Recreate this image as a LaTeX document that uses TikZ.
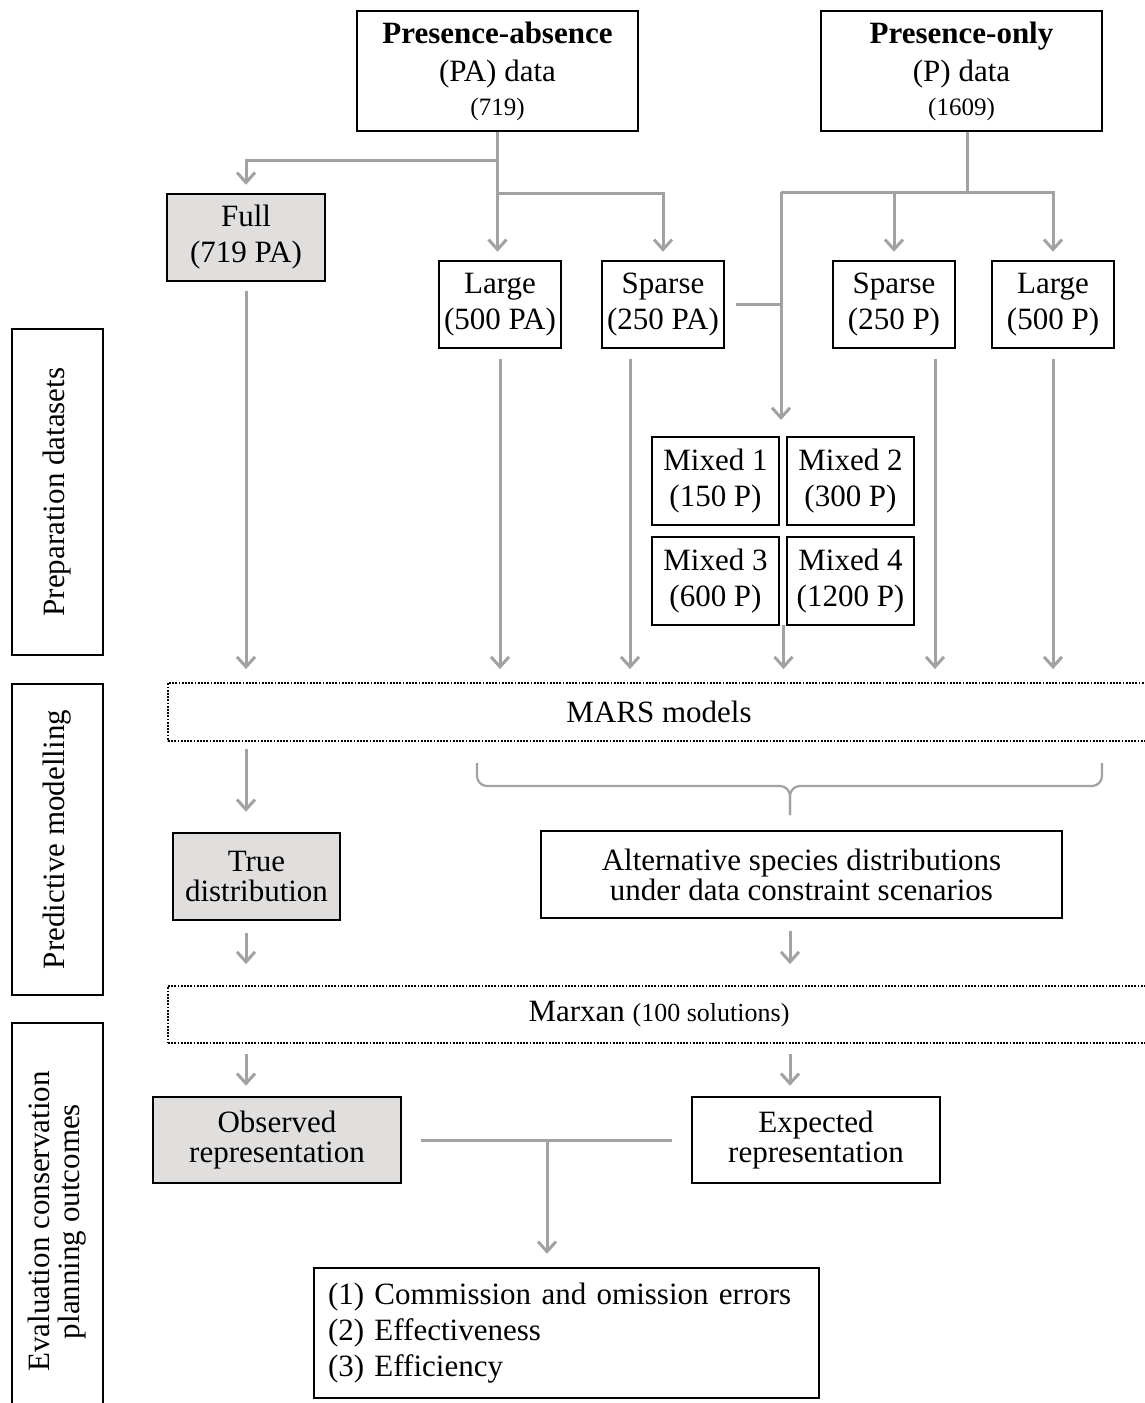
\documentclass[tikz,border=0pt]{standalone}
\usepackage{fontspec}
\setmainfont{Liberation Serif}
\usetikzlibrary{arrows.meta}
\definecolor{lgray}{RGB}{160,162,164}
\definecolor{fgray}{RGB}{225,222,222}
\tikzset{
box/.style={draw,line width=2.5pt,inner sep=0pt,align=center,font=\fontsize{31}{36}\selectfont},
tbox/.style={box,font=\fontsize{31}{30}\selectfont},
topbox/.style={box,font=\fontsize{31}{38}\selectfont},
graybox/.style={box,fill=fgray},
dotbox/.style={draw,line width=1.8pt,dash pattern=on 1.8pt off 1.4pt,inner sep=0pt,font=\fontsize{31}{36}\selectfont},
sidebox/.style={box,rotate=90,font=\fontsize{31}{30}\selectfont},
ln/.style={draw=lgray,line width=3pt},
arr/.style={ln,-{Straight Barb[length=10pt,width=18pt]},shorten >=8pt},
}
\begin{document}
\begin{tikzpicture}[x=1pt,y=-1pt]
\useasboundingbox(0,0)rectangle(1144,1403);
\node[topbox,minimum width=281pt,minimum height=120pt](pa) at(497.5,71){\textbf{Presence-absence}\\(PA) data\\[-4pt]{\fontsize{25}{28}\selectfont(719)}};
\node[topbox,minimum width=281pt,minimum height=120pt](po) at(961.5,71){\textbf{Presence-only}\\(P) data\\[-4pt]{\fontsize{25}{28}\selectfont(1609)}};
\node[graybox,minimum width=158pt,minimum height=87pt](full) at(246,237.5){Full\\(719 PA)};
\node[box,minimum width=122pt,minimum height=87pt](lpa) at(500,304.5){Large\\(500 PA)};
\node[box,minimum width=122pt,minimum height=87pt](spa) at(663,304.5){Sparse\\(250 PA)};
\node[box,minimum width=122pt,minimum height=87pt](sp) at(894,304.5){Sparse\\(250 P)};
\node[box,minimum width=122pt,minimum height=87pt](lp) at(1053,304.5){Large\\(500 P)};
\node[box,minimum width=127pt,minimum height=88pt](m1) at(715.5,481){Mixed 1\\(150 P)};
\node[box,minimum width=127pt,minimum height=88pt](m2) at(850.5,481){Mixed 2\\(300 P)};
\node[box,minimum width=127pt,minimum height=88pt](m3) at(715.5,581){Mixed 3\\(600 P)};
\node[box,minimum width=127pt,minimum height=88pt](m4) at(850.5,581){Mixed 4\\(1200 P)};
\node[dotbox,minimum width=982pt,minimum height=58pt](mars) at(659,712){MARS models};
\node[graybox,tbox,fill=fgray,minimum width=167pt,minimum height=87pt](trued) at(256.5,876.5){True\\distribution};
\node[tbox,minimum width=521pt,minimum height=87pt](alt) at(801.5,874.5){Alternative species distributions\\under data constraint scenarios};
\node[dotbox,minimum width=982pt,minimum height=57pt](marxan) at(659,1014.5){Marxan {\fontsize{26}{30}\selectfont(100 solutions)}};
\node[graybox,tbox,fill=fgray,minimum width=248pt,minimum height=86pt](obs) at(277,1140){Observed\\representation};
\node[tbox,minimum width=248pt,minimum height=86pt](exp) at(816,1140){Expected\\representation};
\node[box,minimum width=505pt,minimum height=130pt,text width=477pt,align=left](res) at(566.5,1333){(1) Commission and omission errors\\(2) Effectiveness\\(3) Efficiency};
\node[sidebox,minimum width=326pt,minimum height=91pt](prep) at(57.5,492){Preparation datasets};
\node[sidebox,minimum width=311pt,minimum height=91pt](pred) at(57.5,839.5){Predictive modelling};
\node[sidebox,minimum width=397pt,minimum height=91pt](eval) at(57.5,1221.5){Evaluation conservation\\planning outcomes};

\coordinate(pa1) at(497.5,160);
\coordinate(pa2) at(497.5,193);
\coordinate(po1) at(967,192);
\coordinate(pm) at(781,192);
\coordinate(mt) at(783,437);
\coordinate(mb) at(783.5,625);
\coordinate(bl) at(477,763);
\coordinate(br) at(1102,763);
\coordinate(bt) at(790,815);
\coordinate(oj) at(547,1140);

\draw[arr](pa.south)--(pa1)-|(full.north);
\draw[arr](pa1)--(pa1|-lpa.north);
\draw[arr](pa2)-|(spa.north);
\draw[ln]([xshift=5.5pt]po.south)--(po1);
\draw[arr](pm)-|(sp.north);
\draw[arr](pm)-|(lp.north);
\draw[arr,shorten >=17pt](pm)--(pm|-mt);
\draw[ln]([xshift=11pt]spa.east)--(spa.east-|pm);

\draw[arr,shorten <=9pt,shorten >=13pt](full.south)--(full.south|-mars.north);
\draw[arr,shorten <=10pt,shorten >=13pt](lpa.south)--(lpa.south|-mars.north);
\draw[arr,shorten <=10pt,shorten >=13pt]([xshift=-33pt]spa.south)--([xshift=-33pt]spa.south|-mars.north);
\draw[arr,shorten >=13pt](mb)--(mb|-mars.north);
\draw[arr,shorten <=10pt,shorten >=13pt]([xshift=41pt]sp.south)--([xshift=41pt]sp.south|-mars.north);
\draw[arr,shorten <=10pt,shorten >=13pt](lp.south)--(lp.south|-mars.north);

\draw[arr,shorten <=7pt,shorten >=20pt](full|-mars.south)--(full|-trued.north);
\draw[ln,line width=2.2pt,rounded corners=10pt](bl)--(bl|-0,786)--(bt|-0,786)--(bt);
\draw[ln,line width=2.2pt,rounded corners=10pt](br)--(br|-0,786)--(bt|-0,786)--(bt);

\draw[arr,shorten <=12pt,shorten >=21pt](full|-trued.south)--(full|-marxan.north);
\draw[arr,shorten <=12pt,shorten >=21pt](bt|-alt.south)--(bt|-marxan.north);
\draw[arr,shorten <=10pt,shorten >=10pt](full|-marxan.south)--(full|-obs.north);
\draw[arr,shorten <=10pt,shorten >=10pt](bt|-marxan.south)--(bt|-exp.north);

\draw[ln]([xshift=19pt]obs.east)--([xshift=-19pt]exp.west);
\draw[arr,shorten >=13pt](oj)--(oj|-res.north);
\end{tikzpicture}
\end{document}
